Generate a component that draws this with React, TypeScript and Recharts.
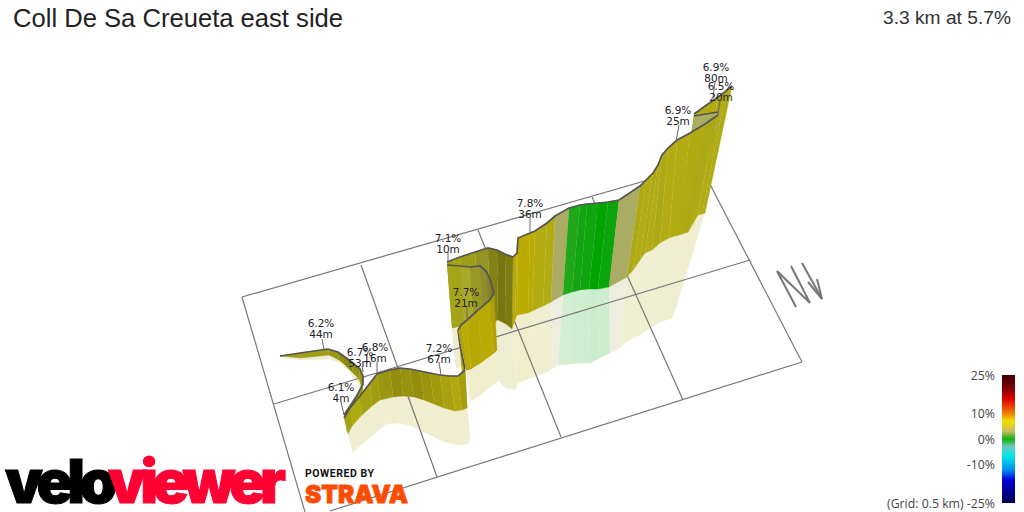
import React from "react";
import { ScatterChart, Scatter, XAxis, YAxis, ReferenceArea } from "recharts";

// every value is in picture units, the chart's axes run 0-1024 and 0-512
// one row: top x, top y, base x, base y, shadow x, shadow y, gradient %, light
type Row = number[];

const climbA: Row[] = [
  [280, 356, 280, 356, 280, 357, 6, 0.95],
  [300, 353, 301, 358, 301, 360, 6, 0.95],
  [328, 349, 329, 355, 330, 359, 6.2, 0.95],
  [338, 352, 339, 360, 340, 363, 6.5, 0.9],
  [345, 357, 345, 365, 346, 368, 6.5, 0.85],
  [353, 363, 352, 372, 352, 376, 6.7, 0.8],
  [360, 369, 359, 379, 358, 383, 6.7, 0.85],
  [363, 376, 362, 388, 361, 392, 6.7, 0.9],
];
const climbB: Row[] = [
  [344, 415, 347, 432, 352, 450, 6.8, 0.85],
  [356, 397, 359, 412, 362, 420, 6.8, 0.9],
  [363, 384, 362, 396, 361, 400, 6.8, 0.9],
  [363, 376, 362, 388, 361, 392, 6.8, 0.9],
];
const climbC: Row[] = [
  [344, 418, 348, 434, 353, 453, 6.1, 0.75],
  [350, 408, 352, 426, 356, 449, 6.8, 0.95],
  [360, 396, 362, 415, 366, 441, 6.8, 1],
  [370, 383, 372, 406, 376, 432, 6.8, 0.95],
  [377, 374, 380, 400, 386, 424, 6.8, 0.92],
  [390, 370, 393, 397, 399, 423, 6.9, 0.88],
  [400, 368, 403, 396, 409, 425, 7, 0.82],
  [410, 369, 414, 397, 420, 430, 7, 0.85],
  [420, 371, 424, 400, 430, 435, 7.2, 0.82],
  [430, 373, 434, 404, 440, 440, 7.2, 0.86],
  [440, 375, 444, 408, 449, 443, 7.2, 0.9],
  [450, 376, 455, 411, 461, 445, 7.2, 0.94],
  [458, 376, 462, 410, 468, 444, 7.2, 0.98],
  [465, 370, 467, 408, 470, 440, 7.2, 0.92],
];
const climbD: Row[] = [
  [458, 330, 462, 372, 465, 405, 7.7, 0.9],
  [460, 345, 464, 384, 467, 415, 7.7, 0.9],
  [465, 369, 467, 408, 470, 440, 7.7, 0.9],
];
const climbE: Row[] = [
  [458, 330, 466, 370, 470, 400, 7.8, 0.95],
  [461, 325, 468, 370, 471, 400, 7.8, 0.95],
  [467, 320, 471, 369, 473, 400, 7.8, 1],
  [478, 310, 482, 362, 484, 392, 7.8, 0.98],
  [490, 300, 494, 353, 497, 382, 7.8, 1],
  [494, 293, 497, 350, 498, 380, 7.8, 0.95],
];
const climbF: Row[] = [
  [447, 265, 452, 328, 456, 368, 7.1, 0.98],
  [460, 266, 464, 325, 467, 365, 6, 1],
  [470, 267, 474, 322, 476, 360, 5.5, 1],
  [480, 266, 484, 318, 486, 358, 5.5, 0.9],
  [486, 271, 489, 320, 491, 360, 5, 0.82],
  [490, 279, 492, 321, 494, 361, 5, 0.76],
  [494, 293, 496, 322, 497, 362, 5, 0.7],
];
const climbG: Row[] = [
  [447, 262, 452, 328, 456, 368, 7, 0.95],
  [460, 257, 464, 325, 467, 365, 7, 0.95],
  [475, 252, 479, 320, 481, 360, 6, 0.95],
  [488, 248, 490, 322, 491, 370, 5.5, 0.88],
  [497, 250, 498, 320, 498, 380, 6, 0.78],
  [505, 254, 506, 324, 506, 388, 6, 0.72],
  [513, 257, 512, 329, 515, 390, 6, 0.75],
];
const climbH: Row[] = [
  [513, 257, 512, 329, 515, 390, 7.8, 1],
  [517, 253, 515, 320, 517, 384, 7.8, 1],
  [518, 238, 517, 315, 518, 383, 7.8, 1],
  [530, 233, 528, 313, 530, 378, 8, 1],
  [535, 231, 532, 311, 534, 377, 8, 1],
  [547, 223, 543, 306, 545, 373, 7, 1],
  [555, 216, 551, 302, 553, 368, 7, 1],
  [569, 208, 563, 295, 558, 365, 3, 1],
  [580, 205, 572, 292, 572, 364, 1.5, 1],
  [587, 204, 580, 290, 580, 363, 1, 1],
  [598, 203, 589, 289, 590, 363, 0.7, 1],
  [608, 202, 598, 289, 600, 358, 0, 1],
  [619, 200, 609, 287, 610, 353, 0.5, 1],
  [640, 186, 627, 277, 617, 350, 3, 1],
  [646, 180, 633, 270, 625, 343, 6.5, 1],
  [653, 173, 640, 260, 632, 338, 7, 1],
  [658, 165, 645, 253, 640, 335, 6.5, 1],
  [662, 155, 652, 250, 650, 328, 7, 1],
  [668, 148, 660, 243, 660, 322, 6.5, 1],
  [677, 140, 669, 238, 672, 318, 7, 1],
  [690, 133, 678, 235, 675, 310, 7, 1],
  [705, 124, 684, 233, 677, 305, 6.9, 1],
  [718, 115, 688, 232, 678, 300, 6.5, 1],
];
const climbI: Row[] = [
  [694, 116, 692, 130, 690, 135, 3, 1],
  [700, 115, 698, 130, 696, 135, 3, 1],
  [718, 112, 716, 130, 714, 135, 3, 1],
];
const climbJ: Row[] = [
  [694, 114, 676, 236, 672, 300, 6.9, 1],
  [708, 104, 688, 232, 678, 300, 6.9, 1],
  [718, 97, 698, 215, 692, 255, 6.9, 1],
  [726, 91, 702, 214, 698, 235, 6.9, 1],
  [732, 86, 705, 213, 704, 215, 6.9, 1],
];

// painted far to near
const sections = [climbJ, climbI, climbH, climbG, climbF, climbD, climbE, climbA, climbB, climbC];

const gridLines = [
  [[242, 297], [700, 165]],
  [[274, 404], [750, 260]],
  [[330, 511], [802, 362]],
  [[242, 297], [305, 512]],
  [[361, 265], [437, 477]],
  [[478, 230], [561, 437]],
  [[592, 197], [683, 400]],
  [[700, 165], [802, 362]],
];

const northArrow = [
  [[796, 307], [777, 271], [810, 303], [791, 266]],
  [[802, 263], [822, 299]],
  [[808, 282], [822, 299], [817, 279]],
];

const segmentGrades = ["6.2%", "6.7%", "6.8%", "6.1%", "7.2%", "7.1%", "7.7%", "7.8%", "6.9%", "6.9%", "6.5%"];
const segmentLengths = ["44m", "53m", "16m", "4m", "67m", "10m", "21m", "36m", "25m", "80m", "20m"];
const labelSpots = [
  [321, 323], [360, 352], [375, 347], [341, 387], [439, 348], [448, 238], [466, 292], [530, 203], [678, 110], [716, 67], [721, 86],
];
const leaderStarts = [
  [322, 339], [362, 366], [377, 362], [341, 402], [439, 362], [448, 252], [467, 307], [530, 218], [679, 125], [715, 82], [720, 100],
];
const leaderEnds = [
  [324, 349], [363, 372], [377, 374], [344, 415], [441, 375], [448, 263], [467, 318], [530, 232], [676, 141], [713, 97], [718, 115],
];

const scaleTicks = ["25%", "10%", "0%", "-10%", "(Grid: 0.5 km) -25%"];
const scaleTickSpots = [[995, 375], [995, 413], [995, 439], [995, 464], [995, 503]];
const scaleStops: [number, string][] = [
  [0, "#3c0000"], [0.1, "#800000"], [0.19, "#e00000"], [0.3, "#f08000"], [0.36, "#f0e000"],
  [0.44, "#c8bc60"], [0.5, "#10b010"], [0.56, "#70c8c0"], [0.63, "#00e8e8"], [0.74, "#0090f0"],
  [0.82, "#0000d8"], [1, "#000050"],
];

const gradeStops = [
  [0, 0, 165, 0], [1, 20, 165, 20], [2, 45, 170, 30], [3, 170, 172, 100],
  [5, 172, 172, 60], [6, 165, 165, 25], [7, 178, 172, 18], [8, 187, 170, 0],
];

// light scales towards black, wash (0-1) towards white
function gradeColor(grade: number, light: number, wash = 0) {
  let i = 0;
  while (i < gradeStops.length - 2 && grade > gradeStops[i + 1][0]) i++;
  const a = gradeStops[i];
  const b = gradeStops[i + 1];
  const t = (grade - a[0]) / (b[0] - a[0]);
  const mix = (k: number) => {
    const v = (a[k] + (b[k] - a[k]) * t) * light;
    return Math.round(v + (255 - v) * wash);
  };
  return `rgb(${mix(1)},${mix(2)},${mix(3)})`;
}

const toPoints = (list: number[][]) => list.map((p) => ({ x: p[0], y: p[1] }));
const noDot = () => <g />;

export default function App() {
  const walls: any[] = [];
  const shadows: any[] = [];
  const tops: any[] = [];
  sections.forEach((rows, s) => {
    for (let i = 0; i < rows.length - 1; i++) {
      const a = rows[i];
      const b = rows[i + 1];
      const color = gradeColor(b[6], b[7]);
      const pale = gradeColor(b[6], 1, 0.8);
      const wall = toPoints([[a[0], a[1]], [b[0], b[1]], [b[2], b[3]], [a[2], a[3]]]);
      const shadow = toPoints([[a[2], a[3]], [b[2], b[3]], [b[4], b[5]], [a[4], a[5]]]);
      shadows.push(
        <Scatter key={`s${s}-${i}`} data={shadow} shape={noDot} isAnimationActive={false}
          line={{ fill: pale, stroke: pale, strokeWidth: 0.4 }} />
      );
      walls.push({ s, key: `w${s}-${i}`, data: wall, color });
    }
    tops.push({ s, data: rows.map((r) => ({ x: r[0], y: r[1] })) });
  });

  return (
    <div style={{ position: "fixed", left: 0, top: 0, width: 1024, height: 512, background: "#fff", overflow: "hidden" }}>
      <div style={{ position: "absolute", left: 13, top: 4, font: "25.6px 'Liberation Sans'", color: "#222", whiteSpace: "nowrap" }}>
        Coll De Sa Creueta east side
      </div>
      <div style={{ position: "absolute", right: 13, top: 7, font: "19.2px 'Liberation Sans'", color: "#333", whiteSpace: "nowrap" }}>
        3.3 km at 5.7%
      </div>
      <ScatterChart width={1024} height={512} margin={{ top: 0, right: 0, bottom: 0, left: 0 }}>
        <defs>
          <linearGradient id="gradeScale" x1="0" y1="0" x2="0" y2="1">
            {scaleStops.map(([o, c]) => (
              <stop key={o} offset={o} stopColor={c} />
            ))}
          </linearGradient>
        </defs>
        <XAxis type="number" dataKey="x" domain={[0, 1024]} hide />
        <YAxis type="number" dataKey="y" domain={[0, 512]} reversed hide />
        {shadows}
        {gridLines.map((l, i) => (
          <Scatter key={`g${i}`} data={toPoints(l)} shape={noDot} isAnimationActive={false}
            line={{ stroke: "#777", strokeWidth: 1.2 }} />
        ))}
        {northArrow.map((l, i) => (
          <Scatter key={`n${i}`} data={toPoints(l)} shape={noDot} isAnimationActive={false}
            line={{ stroke: "#777", strokeWidth: 2 }} />
        ))}
        {sections.map((_, s) => (
          <React.Fragment key={s}>
            {walls.filter((w) => w.s === s).map((w) => (
              <Scatter key={w.key} data={w.data} shape={noDot} isAnimationActive={false}
                line={{ fill: w.color, stroke: w.color, strokeWidth: 0.4 }} />
            ))}
            <Scatter data={tops[s].data} shape={noDot} isAnimationActive={false}
              line={{ stroke: "#555", strokeWidth: 1.7 }} />
          </React.Fragment>
        ))}
        {leaderStarts.map((p, i) => (
          <Scatter key={`l${i}`} data={toPoints([p, leaderEnds[i]])} shape={noDot} isAnimationActive={false}
            line={{ stroke: "#666", strokeWidth: 1 }} />
        ))}
        <Scatter
          data={labelSpots.map((p, i) => ({ x: p[0], y: p[1], grade: segmentGrades[i], length: segmentLengths[i] }))}
          isAnimationActive={false}
          shape={(p: any) => (
            <text textAnchor="middle" fontFamily="'DejaVu Sans'" fontSize={10.5} fill="#222">
              <tspan x={p.cx} y={p.cy + 4}>{p.payload.grade}</tspan>
              <tspan x={p.cx} y={p.cy + 14.5}>{p.payload.length}</tspan>
            </text>
          )}
        />
        <ReferenceArea x1={1002} x2={1015} y1={375} y2={503} fill="url(#gradeScale)" fillOpacity={1} stroke="none" />
        <Scatter
          data={scaleTickSpots.map((p, i) => ({ x: p[0], y: p[1], text: scaleTicks[i] }))}
          isAnimationActive={false}
          shape={(p: any) => (
            <text x={p.cx} y={p.cy + 4.5} textAnchor="end" fontFamily="'Open Sans'" fontSize={12.3} fill="#444">
              {p.payload.text}
            </text>
          )}
        />
      </ScatterChart>
      <svg width={420} height={62} style={{ position: "absolute", left: 0, top: 450 }}>
        <text x={5} y={53} fontFamily="Inter" fontWeight={900} fontSize={60} fill="#000" stroke="#000" strokeWidth={1} textLength={112} lengthAdjust="spacing">velo</text>
        <text x={108} y={53} fontFamily="Inter" fontWeight={900} fontSize={60} fill="#ff0033" stroke="#ff0033" strokeWidth={1} textLength={178} lengthAdjust="spacing">viewer</text>
        <text x={305} y={27} fontFamily="Roboto" fontWeight={700} fontSize={10.5} fill="#111" textLength={69}>POWERED BY</text>
        <text x={305} y={53} fontFamily="Inter" fontWeight={900} fontSize={25} fill="#fc4c02" stroke="#fc4c02" strokeWidth={0.8} textLength={103} lengthAdjust="spacingAndGlyphs">STRAVA</text>
      </svg>
    </div>
  );
}
